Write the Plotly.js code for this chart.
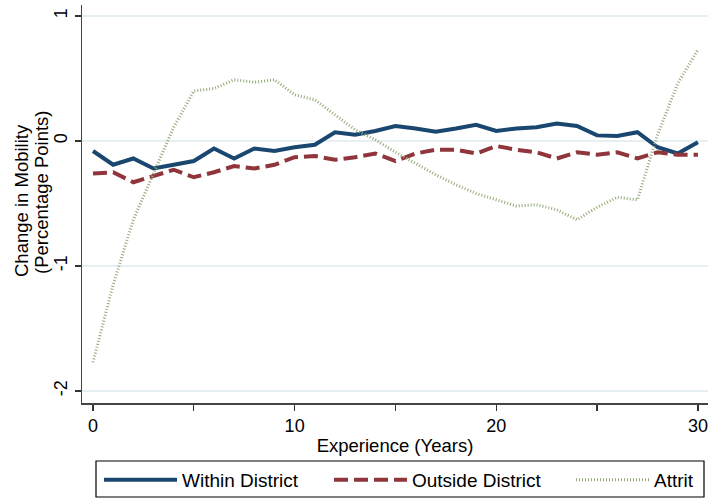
<!DOCTYPE html>
<html>
<head>
<meta charset="utf-8">
<script src="https://cdn.plot.ly/plotly-3.0.1.min.js"></script>
<style>html,body{margin:0;padding:0;background:#fff;}#chart{width:712px;height:500px;}</style>
</head>
<body>
<div id="chart"></div>
<script>
const experience = [0,1,2,3,4,5,6,7,8,9,10,11,12,13,14,15,16,17,18,19,20,21,22,23,24,25,26,27,28,29,30];
const withinDistrict = [-0.08,-0.19,-0.14,-0.22,-0.19,-0.16,-0.06,-0.14,-0.06,-0.08,-0.05,-0.03,0.07,0.05,0.08,0.12,0.10,0.075,0.10,0.13,0.08,0.10,0.11,0.14,0.12,0.045,0.04,0.07,-0.05,-0.10,-0.01];
const outsideDistrict = [-0.26,-0.25,-0.33,-0.28,-0.23,-0.29,-0.25,-0.20,-0.22,-0.19,-0.13,-0.12,-0.15,-0.13,-0.10,-0.16,-0.10,-0.07,-0.07,-0.10,-0.04,-0.07,-0.09,-0.14,-0.09,-0.11,-0.09,-0.14,-0.09,-0.11,-0.11];
const attrit = [-1.77,-1.15,-0.63,-0.26,0.11,0.40,0.42,0.49,0.47,0.49,0.37,0.33,0.21,0.09,0.01,-0.09,-0.18,-0.27,-0.35,-0.42,-0.47,-0.52,-0.51,-0.55,-0.63,-0.53,-0.45,-0.47,0.05,0.46,0.73];
const seriesNames = ["Within District","Outside District","Attrit"];
const xTickVals = [0,5,10,15,20,25,30];
const xTickText = ["0","","10","","20","","30"];
const yTickVals = [-2,-1,0,1];
const yTickText = ["-2","-1","0","1"];
const xTitle = "Experience (Years)";
const yTitleLines = ["Change in Mobility","(Percentage Points)"];

const FONT = '"Liberation Sans", Arial, Helvetica, sans-serif';

// plot-area pixel geometry helpers (for layout placement only)
const PL = 82, PW = 626, PB = 403, PH = 398;
const px = v => (v - PL) / PW;
const py = v => (PB - v) / PH;

const traces = [
  {x: experience, y: withinDistrict, name: seriesNames[0], mode: 'lines', legend: 'legend',
   line: {color: '#1a476f', width: 4}},
  {x: experience, y: outsideDistrict, name: seriesNames[1], mode: 'lines', legend: 'legend2',
   line: {color: '#90353b', width: 4, dash: '14px,6px'}},
  {x: experience, y: attrit, name: seriesNames[2], mode: 'lines', legend: 'legend3',
   line: {color: '#93aa78', width: 3, dash: '1px,2px'}}
];

function legendAt(leftPx) {
  return {
    orientation: 'h', x: px(leftPx), xanchor: 'left', y: py(461), yanchor: 'top',
    borderwidth: 0, bgcolor: 'rgba(0,0,0,0)', itemwidth: 73,
    font: {family: FONT, size: 19, color: '#000'}
  };
}

const layout = {
  width: 712, height: 500,
  margin: {l: 82, r: 4, t: 5, b: 97, autoexpand: false},
  paper_bgcolor: '#ffffff', plot_bgcolor: '#ffffff',
  font: {family: FONT, size: 18, color: '#000'},
  showlegend: true,
  legend: legendAt(99),
  legend2: legendAt(329),
  legend3: legendAt(571),
  xaxis: {
    range: [-0.545, 30.5], tickmode: 'array', tickvals: xTickVals, ticktext: xTickText,
    ticks: 'outside', ticklen: 6, tickwidth: 1.3, tickcolor: '#333',
    showline: true, linecolor: '#444', linewidth: 1.5, showgrid: false, zeroline: false,
    title: {text: xTitle, font: {family: FONT, size: 18.5}, standoff: 4},
    tickfont: {family: FONT, size: 18}
  },
  yaxis: {
    range: [-2.096, 1.088], tickmode: 'array', tickvals: yTickVals, ticktext: yTickText,
    ticks: 'outside', ticklen: 6, tickwidth: 1.3, tickcolor: '#333', tickangle: -90,
    showline: true, linecolor: '#444', linewidth: 1.5, showgrid: true, gridcolor: '#e6eff2', gridwidth: 1.2,
    zeroline: false, tickfont: {family: FONT, size: 18}, ticklabelstandoff: 0
  },
  shapes: [
    {type: 'rect', xref: 'paper', yref: 'paper', x0: px(96), x1: px(704), y0: py(497), y1: py(461),
     line: {color: '#000', width: 1.2}, fillcolor: 'rgba(0,0,0,0)', layer: 'above'}
  ],
  annotations: [
    {xref: 'paper', yref: 'paper', x: px(21), y: py(201), xanchor: 'center', yanchor: 'middle',
     text: yTitleLines[0], textangle: -90, showarrow: false, font: {family: FONT, size: 18.5}},
    {xref: 'paper', yref: 'paper', x: px(41), y: py(192), xanchor: 'center', yanchor: 'middle',
     text: yTitleLines[1], textangle: -90, showarrow: false, font: {family: FONT, size: 18.5}}
  ]
};

Plotly.newPlot('chart', traces, layout, {displayModeBar: false, staticPlot: true});
</script>
</body>
</html>
